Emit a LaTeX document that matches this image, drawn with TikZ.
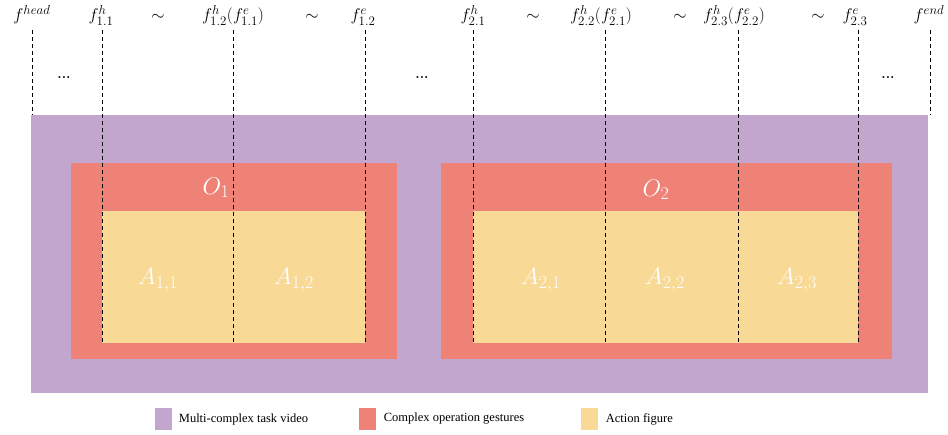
\RequirePackage{fix-cm}
\documentclass[tikz,border=0pt]{standalone}
\usepackage{fontspec}
\usetikzlibrary{positioning}
\newfontfamily\legendfont{Liberation Serif}
\DeclareMathSizes{17}{17}{13}{10}
\DeclareMathSizes{24}{24}{18}{14}
\definecolor{videocol}{RGB}{195,166,205}
\definecolor{gesturecol}{RGB}{239,130,118}
\definecolor{actioncol}{RGB}{248,217,149}
\tikzset{
  frameline/.style={black, line width=0.6pt, dash pattern=on 4pt off 3pt},
  framelabel/.style={anchor=base, inner sep=0pt, font=\fontsize{17}{19}\selectfont},
  segname/.style={text=white, inner sep=0pt, font=\fontsize{24}{26}\selectfont},
  legbox/.style={minimum width=17pt, minimum height=22pt, inner sep=0pt},
  legtext/.style={inner sep=0pt, font=\legendfont\fontsize{12.5}{14}\selectfont},
  dotlabel/.style={inner sep=0pt, font=\bfseries\fontsize{14}{15}\selectfont}
}
\begin{document}
\begin{tikzpicture}[x=1pt, y=-1pt]
  \useasboundingbox (0,0) rectangle (948,435);

  % whole task video
  \fill[videocol] (31,115) rectangle (928,393);

  % complex operations
  \fill[gesturecol] (71,163) rectangle (397,359);
  \fill[gesturecol] (441,163) rectangle (892,359);

  % actions
  \fill[actioncol] (102,211) rectangle (365,343);
  \fill[actioncol] (473,211) rectangle (858,343);

  \node[segname] (o1) at (216,188) {$O_1$};
  \node[segname] (o2) at (656,190) {$O_2$};
  \node[segname] (a11) at (158,280) {$A_{1,1}$};
  \node[segname] (a12) at (294,280) {$A_{1,2}$};
  \node[segname] (a21) at (541,280) {$A_{2,1}$};
  \node[segname] (a22) at (665,280) {$A_{2,2}$};
  \node[segname] (a23) at (797,280) {$A_{2,3}$};

  % frame boundaries
  \foreach \nm/\xx/\yy in {head/32/115, h11/102/343, h12/233/343, e12/365/343,
      h21/473/343, h22/605/343, h23/738/343, e23/858/343, end/930/115} {
    \coordinate (\nm-top) at (\xx,30);
    \coordinate (\nm-bot) at (\xx,\yy);
    \draw[frameline] (\nm-top) -- (\nm-bot);
  }

  \node[framelabel] (lhead) at (32,21) {$f^{head}$};
  \node[framelabel] (lh11) at (101,21) {$f^{h}_{1.1}$};
  \node[framelabel] (t1) at (158,21) {$\sim$};
  \node[framelabel] (lh12) at (233,21) {$f^{h}_{1.2}(f^{e}_{1.1})$};
  \node[framelabel] (t2) at (312,21) {$\sim$};
  \node[framelabel] (le12) at (363,21) {$f^{e}_{1.2}$};
  \node[framelabel] (lh21) at (473,21) {$f^{h}_{2.1}$};
  \node[framelabel] (t3) at (533,21) {$\sim$};
  \node[framelabel] (lh22) at (601,21) {$f^{h}_{2.2}(f^{e}_{2.1})$};
  \node[framelabel] (t4) at (680,21) {$\sim$};
  \node[framelabel] (lh23) at (734,21) {$f^{h}_{2.3}(f^{e}_{2.2})$};
  \node[framelabel] (t5) at (818,21) {$\sim$};
  \node[framelabel] (le23) at (855,21) {$f^{e}_{2.3}$};
  \node[framelabel] (lend) at (929,21) {$f^{end}$};

  \node[dotlabel] (dots1) at (64,77) {...};
  \node[dotlabel] (dots2) at (422,77) {...};
  \node[dotlabel] (dots3) at (888,77) {...};

  % legend
  \node[legbox, fill=videocol] (kvideo) at (163,419) {};
  \node[legtext, right=7pt of kvideo] (tvideo) {Multi-complex task video};
  \node[legbox, fill=gesturecol] (kgesture) at (367,419) {};
  \node[legtext, right=8pt of kgesture] (tgesture) {Complex operation gestures};
  \node[legbox, fill=actioncol] (kaction) at (589,419) {};
  \node[legtext, right=8pt of kaction] (taction) {Action figure};
\end{tikzpicture}
\end{document}
